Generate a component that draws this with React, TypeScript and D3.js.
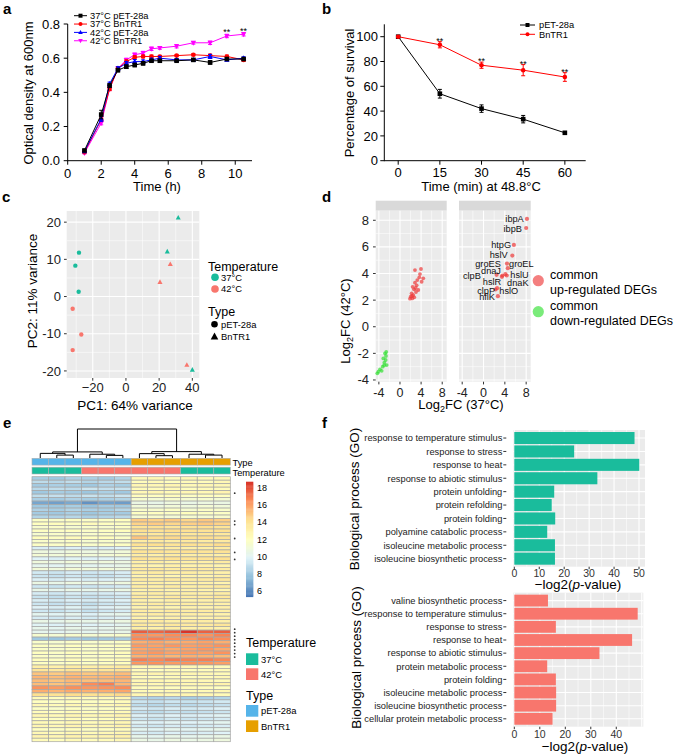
import React from "react";
import * as d3 from "d3";

const F = "'Liberation Sans', Arial, Helvetica, sans-serif";

// ---------- Panel a data ----------
const growthTime = [1, 2, 2.5, 3, 3.5, 4, 4.5, 5, 5.5, 6.5, 7.5, 8.5, 9.5, 10.5];
const od37pET = [0.06, 0.27, 0.44, 0.53, 0.55, 0.56, 0.57, 0.585, 0.585, 0.585, 0.59, 0.575, 0.595, 0.595];
const od37Bn = [0.05, 0.24, 0.42, 0.54, 0.58, 0.605, 0.61, 0.61, 0.61, 0.615, 0.62, 0.615, 0.61, 0.59];
const od42pET = [0.055, 0.245, 0.45, 0.54, 0.57, 0.58, 0.58, 0.59, 0.6, 0.59, 0.59, 0.61, 0.59, 0.6];
const od42Bn = [0.045, 0.22, 0.42, 0.54, 0.59, 0.62, 0.63, 0.655, 0.66, 0.67, 0.69, 0.69, 0.73, 0.74];
const err37pET = [0.005, 0.025, 0.01, 0.01, 0.01, 0.01, 0.01, 0.008, 0.008, 0.006, 0.006, 0.01, 0.006, 0.006];
const err37Bn = [0.005, 0.01, 0.01, 0.01, 0.01, 0.01, 0.008, 0.008, 0.006, 0.006, 0.006, 0.008, 0.008, 0.008];
const err42pET = [0.005, 0.015, 0.01, 0.01, 0.01, 0.012, 0.01, 0.01, 0.01, 0.008, 0.008, 0.012, 0.006, 0.008];
const err42Bn = [0.005, 0.01, 0.01, 0.01, 0.01, 0.01, 0.01, 0.01, 0.008, 0.01, 0.008, 0.01, 0.01, 0.01];
const growthStars = [9.5, 10.5];

// ---------- Panel b data ----------
const survTime = [0, 15, 30, 45, 60];
const survPET = [100, 54, 42, 33.5, 22.5];
const survPETErr = [0.5, 3.5, 3, 3, 1];
const survBn = [100, 93.5, 77, 73, 67.5];
const survBnErr = [0.5, 2.5, 2.5, 4.5, 3.5];

// ---------- Panel c data ----------
const pcaX = [-28.3, -30.5, -28.5, -32.1, -26.9, -32.1, 31.5, 24.9, 40.0, 26.7, 20.5, 36.7];
const pcaY = [11.8, 8.3, 1.3, -3.3, -10.2, -14.4, 21.2, 12.1, -19.7, 8.7, 3.9, -18.4];
const pcaTemp = ["37°C", "37°C", "37°C", "42°C", "42°C", "42°C", "37°C", "37°C", "37°C", "42°C", "42°C", "42°C"];
const pcaType = ["pET-28a", "pET-28a", "pET-28a", "pET-28a", "pET-28a", "pET-28a", "BnTR1", "BnTR1", "BnTR1", "BnTR1", "BnTR1", "BnTR1"];

// ---------- Panel d data ----------
const upX = [2.84, 3.98, 3.66, 4.41, 3.28, 2.84, 3.16, 2.4, 2.65, 3.47, 3.03, 2.21, 2.52, 2.03, 2.33, 2.71, 1.89, 2.97, 2.27, 4.1, 3.79];
const upY = [4.26, 4.34, 3.71, 3.64, 3.51, 3.31, 3.11, 3.0, 2.81, 2.76, 2.61, 2.51, 2.38, 2.26, 2.13, 2.21, 2.11, 2.91, 2.31, 3.38, 3.96];
const downX = [-2.84, -2.65, -3.16, -2.71, -2.97, -2.52, -3.28, -3.79, -4.1, -3.47, -4.29, -2.6, -3.0];
const downY = [-2.0, -2.2, -2.38, -2.5, -2.7, -2.88, -3.0, -3.2, -3.38, -3.31, -3.5, -1.9, -2.9];
const geneNames = ["ibpA", "ibpB", "htpG", "hslV", "groES", "groEL", "dnaJ", "clpB", "hslU", "hslR", "dnaK", "clpP", "hslO", "hflK"];
const geneX = [8.15, 8.0, 5.7, 5.4, 4.4, 4.55, 3.55, 2.45, 4.1, 3.45, 4.35, 2.25, 2.55, 2.7];
const geneY = [8.1, 7.42, 6.15, 5.35, 4.75, 4.4, 3.85, 3.9, 3.95, 3.75, 3.85, 2.8, 2.9, 2.3];
const geneLabelX = [5.82, 5.49, 3.3, 2.84, 0.84, 7.09, 1.4, -2.19, 6.76, 1.59, 6.44, 0.48, 4.74, 0.67];
const geneLabelY = [8.14, 7.39, 6.14, 5.39, 4.73, 4.73, 4.24, 3.83, 3.94, 3.34, 3.31, 2.7, 2.7, 2.25];

// ---------- Panel e data ----------
const heatRows = [
  "8.2 8.0 8.4 8.3 8.1 8.5 12.4 12.6 12.2 12.5 12.3 12.4",
  "8.8 8.6 8.9 8.5 8.7 8.9 12.2 12.4 12.1 12.3 12.2 12.5",
  "8.1 8.3 8.2 8.0 8.4 8.2 12.6 12.5 12.7 12.4 12.6 12.5",
  "8.7 8.9 8.8 9.2 9.0 9.1 12.3 12.2 12.4 12.1 12.3 12.2",
  "8.0 8.2 8.1 7.9 8.3 8.0 12.5 12.7 12.4 12.6 12.5 12.8",
  "8.9 9.0 8.8 9.1 8.9 9.2 12.1 12.0 12.2 11.9 12.1 12.0",
  "8.3 8.1 8.4 8.2 8.3 8.5 11.4 11.2 11.5 11.3 11.4 11.2",
  "6.8 6.6 6.9 6.2 6.7 6.5 10.6 10.4 10.8 10.5 10.7 10.6",
  "8.0 7.9 8.2 7.8 8.1 8.0 11.0 10.8 11.1 10.9 11.2 11.0",
  "8.4 8.2 8.5 8.3 8.2 8.6 11.6 11.5 11.8 11.4 11.7 11.6",
  "8.1 8.0 8.3 7.9 8.2 8.1 11.9 12.0 11.8 12.1 11.9 11.8",
  "8.5 8.4 8.6 8.3 8.5 8.7 11.3 11.5 11.2 11.4 11.3 11.5",
  "11.8 11.6 11.9 11.7 11.8 12.0 14.8 14.6 14.9 14.5 14.9 14.7",
  "12.0 12.1 11.9 12.2 12.0 11.9 14.6 14.8 14.5 14.7 14.9 14.6",
  "11.5 11.7 11.4 11.6 11.5 11.8 13.9 14.1 13.8 14.0 14.2 13.9",
  "11.9 11.8 12.0 11.7 11.9 12.1 14.2 14.0 14.3 14.1 14.0 14.2",
  "11.4 11.6 11.3 11.5 11.7 11.4 13.8 13.6 13.9 13.7 13.8 13.6",
  "12.1 11.9 12.2 12.0 12.1 11.8 15.0 14.3 14.4 14.2 14.3 14.1",
  "11.6 11.5 11.7 11.4 11.6 11.5 13.4 13.5 13.3 13.6 13.4 13.5",
  "11.8 11.7 11.9 11.6 11.8 11.9 14.0 14.2 13.9 14.1 14.0 14.3",
  "9.6 9.4 9.7 9.5 9.6 9.8 13.2 13.0 13.3 13.1 13.2 13.4",
  "10.8 10.6 10.9 10.7 10.8 11.0 13.9 14.0 13.8 14.1 13.9 14.0",
  "11.2 11.0 11.3 11.1 11.2 11.4 13.3 13.1 13.4 13.2 13.3 13.1",
  "9.8 9.6 9.9 9.7 9.8 10.0 14.0 13.8 14.1 13.9 14.0 14.2",
  "10.9 10.7 11.0 10.8 10.9 10.7 13.1 13.3 13.0 13.2 13.1 13.4",
  "10.2 10.0 10.3 10.1 10.2 10.4 13.0 12.8 13.1 12.9 13.0 12.8",
  "11.1 10.9 11.2 11.0 11.1 10.9 13.5 13.7 13.4 13.6 13.5 13.3",
  "9.4 9.2 9.5 9.3 9.4 9.6 13.2 13.4 13.1 13.3 13.2 13.0",
  "9.2 9.0 9.3 9.1 9.0 9.4 12.8 13.0 12.7 12.9 12.8 13.1",
  "9.7 9.5 9.8 9.6 9.7 9.9 13.4 13.2 13.5 13.3 13.4 13.6",
  "10.6 10.4 10.7 10.5 10.6 10.8 13.0 13.2 12.9 13.1 13.0 12.8",
  "9.3 9.1 9.4 9.2 9.3 9.5 13.3 13.1 13.4 13.2 13.3 13.5",
  "10.4 10.2 10.5 10.3 10.4 10.6 12.9 13.1 12.8 13.0 12.9 12.7",
  "9.5 9.3 9.6 9.4 9.5 9.7 13.1 13.3 13.0 13.2 13.1 13.3",
  "9.1 8.9 9.2 9.0 9.1 9.3 13.5 13.3 13.6 13.4 13.5 13.7",
  "9.6 9.4 9.7 9.5 9.6 9.8 13.0 12.8 13.1 12.9 13.0 13.2",
  "9.2 9.0 9.3 8.9 9.2 9.4 13.2 13.4 13.1 13.3 13.2 13.0",
  "9.8 9.6 9.9 9.4 9.8 10.0 12.8 13.0 12.7 12.9 12.8 13.0",
  "9.3 9.1 9.4 9.0 9.3 9.5 13.4 13.2 13.5 13.3 13.4 13.2",
  "10.1 9.9 10.2 9.7 10.1 10.3 13.1 13.3 13.0 13.2 13.1 12.9",
  "9.5 9.3 9.6 9.4 9.5 9.7 12.9 12.7 13.0 12.8 12.9 13.1",
  "10.5 10.3 10.6 10.4 10.5 10.7 13.3 13.5 13.2 13.4 13.3 13.1",
  "9.9 9.7 10.0 9.8 9.9 10.1 13.6 13.4 13.7 13.5 13.6 13.8",
  "10.3 10.1 10.4 10.2 10.3 10.5 13.2 13.0 13.3 13.1 13.2 13.0",
  "10.2 10.0 10.3 10.1 10.2 10.4 17.6 17.4 17.7 18.6 17.5 17.6",
  "11.4 11.2 11.5 11.3 11.4 11.6 16.4 16.2 16.5 16.6 16.3 16.7",
  "8.0 7.8 8.1 7.9 8.0 8.2 16.6 16.8 16.5 16.3 16.7 16.5",
  "11.6 11.4 11.7 11.5 11.6 11.8 15.6 15.8 15.5 15.7 15.9 15.6",
  "11.9 11.7 12.0 11.8 11.9 12.1 16.1 15.9 16.2 16.0 16.1 16.3",
  "11.7 11.5 11.8 11.6 11.7 11.9 15.8 16.0 15.7 15.9 16.2 15.8",
  "12.0 11.8 12.1 11.9 12.0 12.2 16.0 16.2 15.9 16.1 16.0 16.3",
  "11.8 11.6 11.9 11.7 11.8 12.0 15.5 15.7 15.4 15.6 15.5 15.3",
  "12.1 11.9 12.2 12.0 12.1 12.3 16.8 16.6 16.9 16.7 16.8 16.6",
  "11.9 11.7 12.0 11.8 11.9 12.1 16.2 16.4 16.1 16.3 16.2 16.0",
  "13.2 13.0 13.3 13.1 13.2 13.4 12.4 12.6 12.3 12.5 12.4 12.2",
  "13.8 13.6 13.9 13.7 13.8 14.0 12.2 12.0 12.3 12.1 12.2 12.4",
  "15.0 14.8 15.1 14.9 15.0 15.2 12.6 12.8 12.5 12.7 12.6 12.4",
  "15.4 15.2 15.5 15.3 15.4 15.6 12.3 12.1 12.4 12.2 12.3 12.5",
  "15.2 15.0 15.3 15.1 15.2 15.4 12.5 12.7 12.4 12.6 12.5 12.3",
  "15.2 15.0 15.3 16.5 16.8 15.4 12.7 12.5 12.8 12.6 12.7 12.9",
  "16.3 16.1 16.4 16.2 16.3 16.5 12.2 12.4 12.1 12.3 12.2 12.0",
  "15.6 15.4 15.7 15.5 15.6 15.8 12.4 12.2 12.5 12.3 12.4 12.6",
  "14.2 14.0 14.3 14.1 14.2 14.4 12.6 12.8 12.5 12.7 12.6 12.4",
  "12.3 12.1 12.4 12.2 12.3 12.5 8.6 8.4 8.7 8.2 8.3 8.5",
  "12.0 11.8 12.1 11.9 12.0 12.2 9.2 9.0 9.3 9.1 9.2 9.4",
  "12.5 12.3 12.6 12.4 12.5 12.7 8.8 8.6 8.9 8.7 8.8 9.0",
  "11.8 11.6 11.9 11.7 11.8 12.0 9.5 9.3 9.6 9.4 9.5 9.7",
  "12.2 12.0 12.3 12.1 12.2 12.4 9.0 8.8 9.1 8.9 9.0 9.2",
  "12.6 12.4 12.7 12.5 12.6 12.8 9.7 9.5 9.8 9.6 9.7 9.9",
  "12.1 11.9 12.2 12.0 12.1 12.3 9.3 9.1 9.4 9.2 9.3 9.5",
  "12.4 12.2 12.5 12.3 12.4 12.6 9.9 9.7 10.0 9.8 9.9 10.1",
  "12.7 12.5 12.8 12.6 12.7 12.9 9.4 9.2 9.5 9.3 9.4 9.6",
  "12.0 11.8 12.1 11.9 12.0 12.2 10.1 9.9 10.2 10.0 10.1 10.3",
  "12.5 12.3 12.6 12.4 12.5 12.7 9.6 9.4 9.7 9.5 9.6 9.8",
  "12.8 12.6 12.9 12.7 12.8 13.0 10.3 10.1 10.4 10.2 10.3 10.5",
  "12.3 12.1 12.4 12.2 12.3 12.5 10.6 10.4 10.7 10.5 10.6 10.8",
];
const heatType = ["pET-28a", "pET-28a", "pET-28a", "pET-28a", "pET-28a", "pET-28a", "BnTR1", "BnTR1", "BnTR1", "BnTR1", "BnTR1", "BnTR1"];
const heatTemp = ["37°C", "37°C", "37°C", "42°C", "42°C", "42°C", "42°C", "42°C", "42°C", "37°C", "37°C", "37°C"];
const sigRows = [4, 12, 13, 17, 21, 23, 43, 44, 45, 46, 47, 48, 49, 50, 51];
// hclust-like merges: [childA, childB, height]; leaves 0..11, merges numbered from 12
const dendroMerges = [
  [1, 2, 1.0], [0, 12, 1.6], [4, 5, 0.9], [3, 14, 1.3], [13, 15, 2.1],
  [7, 8, 0.8], [6, 17, 1.5], [10, 11, 1.0], [9, 19, 1.3], [18, 20, 2.2], [16, 21, 10],
];
const heatLegendTicks = [6, 8, 10, 12, 14, 16, 18];

// ---------- Panel f data ----------
const goUpTerms = ["response to temperature stimulus", "response to stress", "response to heat", "response to abiotic stimulus", "protein unfolding", "protein refolding", "protein folding", "polyamine catabolic process", "isoleucine metabolic process", "isoleucine biosynthetic process"];
const goUpVals = [48.2, 24.0, 50.1, 33.3, 16.0, 15.0, 16.4, 13.2, 16.3, 16.3];
const goDownTerms = ["valine biosynthetic process", "response to temperature stimulus", "response to stress", "response to heat", "response to abiotic stimulus", "protein metabolic process", "protein folding", "isoleucine metabolic process", "isoleucine biosynthetic process", "cellular protein metabolic process"];
const goDownVals = [13.2, 48.4, 16.3, 46.2, 33.4, 12.9, 16.3, 16.4, 16.4, 15.0];

const TEAL = "#1ABC9C";
const SALMON = "#F8766D";
const GGBG = "#EBEBEB";

function Marker({ shape, x, y, color, s = 2.3 }: any) {
  if (shape === "square") return <rect x={x - s} y={y - s} width={2 * s} height={2 * s} fill={color} />;
  if (shape === "circle") return <circle cx={x} cy={y} r={s} fill={color} />;
  if (shape === "up") return <path d={`M${x},${y - s * 1.25}L${x + s * 1.15},${y + s * 0.85}L${x - s * 1.15},${y + s * 0.85}Z`} fill={color} />;
  return <path d={`M${x},${y + s * 1.25}L${x + s * 1.15},${y - s * 0.85}L${x - s * 1.15},${y - s * 0.85}Z`} fill={color} />;
}

function PanelLetter({ x, y, t }: any) {
  return <text x={x} y={y} fontSize={15} fontWeight="bold" fontFamily={F}>{t}</text>;
}

function PanelA() {
  const x = d3.scaleLinear().domain([0, 11]).range([67.7, 252]);
  const y = d3.scaleLinear().domain([0, 0.8]).range([160.7, 24]);
  const series = [
    { name: "42°C BnTR1", v: od42Bn, e: err42Bn, c: "#FF00FF", s: "down" },
    { name: "37°C BnTR1", v: od37Bn, e: err37Bn, c: "#FF0000", s: "circle" },
    { name: "42°C pET-28a", v: od42pET, e: err42pET, c: "#0000FF", s: "up" },
    { name: "37°C pET-28a", v: od37pET, e: err37pET, c: "#000000", s: "square" },
  ];
  const legendOrder = [3, 1, 2, 0];
  const line = d3.line<number>().x((_, i) => x(growthTime[i])).y((d) => y(d));
  return (
    <g fontFamily={F}>
      <PanelLetter x={3} y={14} t="a" />
      <line x1={x(0)} x2={x(11)} y1={y(0)} y2={y(0)} stroke="#000" />
      <line x1={x(0)} x2={x(0)} y1={y(0) + 0.5} y2={y(0.8)} stroke="#000" />
      {d3.range(0, 11, 2).map((t) => (
        <g key={t}>
          <line x1={x(t)} x2={x(t)} y1={y(0)} y2={y(0) + 4} stroke="#000" />
          <text x={x(t)} y={178} fontSize={13} textAnchor="middle">{t}</text>
        </g>
      ))}
      {[0, 0.2, 0.4, 0.6, 0.8].map((t) => (
        <g key={t}>
          <line x1={x(0) - 4} x2={x(0)} y1={y(t)} y2={y(t)} stroke="#000" />
          <text x={60} y={y(t) + 4.6} fontSize={13} textAnchor="end">{t.toFixed(1)}</text>
        </g>
      ))}
      <text transform="translate(32.5,93) rotate(-90)" fontSize={13} textAnchor="middle">Optical density at 600nm</text>
      <text x={157} y={191} fontSize={13} textAnchor="middle">Time (h)</text>
      {series.map((sr) => (
        <g key={sr.name}>
          <path d={line(sr.v) || ""} fill="none" stroke={sr.c} strokeWidth={1} />
          {sr.v.map((v, i) => (
            <g key={i}>
              <line x1={x(growthTime[i])} x2={x(growthTime[i])} y1={y(v - sr.e[i])} y2={y(v + sr.e[i])} stroke={sr.c} />
              <line x1={x(growthTime[i]) - 2} x2={x(growthTime[i]) + 2} y1={y(v + sr.e[i])} y2={y(v + sr.e[i])} stroke={sr.c} />
              <line x1={x(growthTime[i]) - 2} x2={x(growthTime[i]) + 2} y1={y(v - sr.e[i])} y2={y(v - sr.e[i])} stroke={sr.c} />
              <Marker shape={sr.s} x={x(growthTime[i])} y={y(v)} color={sr.c} />
            </g>
          ))}
        </g>
      ))}
      {growthStars.map((t) => {
        const i = growthTime.indexOf(t);
        return <text key={t} x={x(t)} y={y(od42Bn[i] + err42Bn[i]) + 1} fontSize={9} textAnchor="middle">**</text>;
      })}
      {legendOrder.map((si, k) => {
        const sr = series[si];
        const ly = 15.7 + k * 8.35;
        return (
          <g key={sr.name}>
            <line x1={74} x2={87} y1={ly} y2={ly} stroke={sr.c} />
            <Marker shape={sr.s} x={80.5} y={ly} color={sr.c} s={2} />
            <text x={90} y={ly + 3.3} fontSize={9.3}>{sr.name}</text>
          </g>
        );
      })}
    </g>
  );
}

function PanelB() {
  const x = d3.scaleLinear().domain([-5, 67.5]).range([384.3, 585.7]);
  const y = d3.scaleLinear().domain([0, 110]).range([160.7, 24.3]);
  const series = [
    { name: "pET-28a", v: survPET, e: survPETErr, c: "#000", s: "square" },
    { name: "BnTR1", v: survBn, e: survBnErr, c: "#FF0000", s: "circle" },
  ];
  const line = d3.line<number>().x((_, i) => x(survTime[i])).y((d) => y(d));
  return (
    <g fontFamily={F}>
      <PanelLetter x={322} y={14} t="b" />
      <line x1={x(-5)} x2={x(67.5)} y1={y(0)} y2={y(0)} stroke="#000" />
      <line x1={x(-5)} x2={x(-5)} y1={y(0) + 0.5} y2={y(110)} stroke="#000" />
      {survTime.map((t) => (
        <g key={t}>
          <line x1={x(t)} x2={x(t)} y1={y(0)} y2={y(0) + 4} stroke="#000" />
          <text x={x(t)} y={176.5} fontSize={13} textAnchor="middle">{t}</text>
        </g>
      ))}
      {[0, 20, 40, 60, 80, 100].map((t) => (
        <g key={t}>
          <line x1={x(-5) - 4} x2={x(-5)} y1={y(t)} y2={y(t)} stroke="#000" />
          <text x={378} y={y(t) + 4.6} fontSize={13} textAnchor="end">{t}</text>
        </g>
      ))}
      <text transform="translate(353.5,93) rotate(-90)" fontSize={13} textAnchor="middle">Percentage of survival</text>
      <text x={481} y={191} fontSize={13} textAnchor="middle">Time (min) at 48.8°C</text>
      {series.map((sr) => (
        <g key={sr.name}>
          <path d={line(sr.v) || ""} fill="none" stroke={sr.c} />
          {sr.v.map((v, i) => (
            <g key={i}>
              <line x1={x(survTime[i])} x2={x(survTime[i])} y1={y(v - sr.e[i])} y2={y(v + sr.e[i])} stroke={sr.c} />
              <line x1={x(survTime[i]) - 2} x2={x(survTime[i]) + 2} y1={y(v + sr.e[i])} y2={y(v + sr.e[i])} stroke={sr.c} />
              <line x1={x(survTime[i]) - 2} x2={x(survTime[i]) + 2} y1={y(v - sr.e[i])} y2={y(v - sr.e[i])} stroke={sr.c} />
              <Marker shape={sr.s} x={x(survTime[i])} y={y(v)} color={sr.c} />
            </g>
          ))}
        </g>
      ))}
      {survTime.slice(1).map((t, k) => (
        <text key={t} x={x(t)} y={y(survBn[k + 1] + survBnErr[k + 1]) + 2} fontSize={9} textAnchor="middle">**</text>
      ))}
      {series.map((sr, k) => {
        const ly = 25 + k * 9.3;
        return (
          <g key={sr.name}>
            <line x1={520} x2={535} y1={ly} y2={ly} stroke={sr.c} />
            <Marker shape={sr.s} x={527.5} y={ly} color={sr.c} s={2} />
            <text x={539} y={ly + 3.3} fontSize={9.3}>{sr.name}</text>
          </g>
        );
      })}
    </g>
  );
}

function PanelC() {
  const x = d3.scaleLinear().domain([-35.7, 44.2]).range([66.7, 199.3]);
  const y = d3.scaleLinear().domain([-21.9, 23.0]).range([378, 211]);
  const xMaj = [-20, 0, 20, 40], xMin = [-30, -10, 10, 30];
  const yMaj = [-20, -10, 0, 10, 20], yMin = [-15, -5, 5, 15];
  const tempColor = (t: string) => (t === "37°C" ? TEAL : SALMON);
  return (
    <g fontFamily={F}>
      <PanelLetter x={2} y={201.5} t="c" />
      <rect x={66.7} y={211} width={132.6} height={167} fill={GGBG} />
      {xMin.map((v) => <line key={"a" + v} x1={x(v)} x2={x(v)} y1={211} y2={378} stroke="#fff" strokeWidth={0.55} />)}
      {yMin.map((v) => <line key={"b" + v} y1={y(v)} y2={y(v)} x1={66.7} x2={199.3} stroke="#fff" strokeWidth={0.55} />)}
      {xMaj.map((v) => <line key={"c" + v} x1={x(v)} x2={x(v)} y1={211} y2={378} stroke="#fff" strokeWidth={1.1} />)}
      {yMaj.map((v) => <line key={"d" + v} y1={y(v)} y2={y(v)} x1={66.7} x2={199.3} stroke="#fff" strokeWidth={1.1} />)}
      {xMaj.map((v) => (
        <g key={"e" + v}>
          <line x1={x(v)} x2={x(v)} y1={378} y2={380.7} stroke="#333" />
          <text x={x(v)} y={392} fontSize={13} textAnchor="middle" fill="#222">{v < 0 ? "−" + Math.abs(v) : v}</text>
        </g>
      ))}
      {yMaj.map((v) => (
        <g key={"f" + v}>
          <line x1={64} x2={66.7} y1={y(v)} y2={y(v)} stroke="#333" />
          <text x={61} y={y(v) + 4.6} fontSize={13} textAnchor="end" fill="#222">{v}</text>
        </g>
      ))}
      <text transform="translate(36.5,291) rotate(-90)" fontSize={13.5} textAnchor="middle">PC2: 11% variance</text>
      <text x={135} y={410} fontSize={13.5} textAnchor="middle">PC1: 64% variance</text>
      {pcaX.map((px, i) => (
        <Marker key={i} shape={pcaType[i] === "BnTR1" ? "up" : "circle"} x={x(px)} y={y(pcaY[i])} color={tempColor(pcaTemp[i])} s={2.2} />
      ))}
      <text x={208} y={271} fontSize={12.5}>Temperature</text>
      {["37°C", "42°C"].map((t, k) => (
        <g key={t}>
          <circle cx={215} cy={277.3 + k * 11.7} r={3.8} fill={tempColor(t)} />
          <text x={221} y={280.7 + k * 11.7} fontSize={9.4}>{t}</text>
        </g>
      ))}
      <text x={208} y={315.5} fontSize={12.5}>Type</text>
      {["pET-28a", "BnTR1"].map((t, k) => (
        <g key={t}>
          <Marker shape={t === "BnTR1" ? "up" : "circle"} x={214.5} y={324.3 + k * 12.4} color="#000" s={3.3} />
          <text x={221} y={327.7 + k * 12.4} fontSize={9.4}>{t}</text>
        </g>
      ))}
    </g>
  );
}

function PanelD() {
  const dom = [-4.6, 8.85];
  const x1 = d3.scaleLinear().domain(dom).range([375.7, 446.7]);
  const x2 = d3.scaleLinear().domain(dom).range([459, 530.7]);
  const y = d3.scaleLinear().domain([-4.13, 8.72]).range([381.7, 210.7]);
  const xMaj = [-4, 0, 4, 8], xMin = [-2, 2, 6];
  const yMaj = [-4, -2, 0, 2, 4, 6, 8], yMin = [-3, -1, 1, 3, 5, 7];
  const UP = "#EE3B3B", DOWN = "#33E033";
  const facet = (xs: any, key: string) => (
    <g key={key}>
      <rect x={xs.range()[0]} y={200.7} width={xs.range()[1] - xs.range()[0]} height={10} fill="#D9D9D9" />
      <rect x={xs.range()[0]} y={210.7} width={xs.range()[1] - xs.range()[0]} height={171} fill={GGBG} />
      {xMin.map((v) => <line key={"a" + v} x1={xs(v)} x2={xs(v)} y1={210.7} y2={381.7} stroke="#fff" strokeWidth={0.55} />)}
      {yMin.map((v) => <line key={"b" + v} y1={y(v)} y2={y(v)} x1={xs.range()[0]} x2={xs.range()[1]} stroke="#fff" strokeWidth={0.55} />)}
      {xMaj.map((v) => <line key={"c" + v} x1={xs(v)} x2={xs(v)} y1={210.7} y2={381.7} stroke="#fff" strokeWidth={1.1} />)}
      {yMaj.map((v) => <line key={"d" + v} y1={y(v)} y2={y(v)} x1={xs.range()[0]} x2={xs.range()[1]} stroke="#fff" strokeWidth={1.1} />)}
      {xMaj.map((v) => (
        <g key={"e" + v}>
          <line x1={xs(v)} x2={xs(v)} y1={381.7} y2={384.4} stroke="#333" />
          <text x={xs(v)} y={396.5} fontSize={12.5} textAnchor="middle" fill="#222">{v}</text>
        </g>
      ))}
    </g>
  );
  return (
    <g fontFamily={F}>
      <PanelLetter x={322} y={201.5} t="d" />
      {facet(x1, "L")}
      {facet(x2, "R")}
      {yMaj.map((v) => (
        <g key={"f" + v}>
          <line x1={373} x2={375.7} y1={y(v)} y2={y(v)} stroke="#333" />
          <text x={369} y={y(v) + 4.5} fontSize={13} textAnchor="end" fill="#222">{v}</text>
        </g>
      ))}
      <text transform="translate(350,321) rotate(-90)" fontSize={13} textAnchor="middle">
        Log<tspan fontSize={9} dy={3}>2</tspan><tspan dy={-3}>FC (42°C)</tspan>
      </text>
      <text x={461} y={409} fontSize={13} textAnchor="middle">
        Log<tspan fontSize={9} dy={3}>2</tspan><tspan dy={-3}>FC (37°C)</tspan>
      </text>
      {upX.map((v, i) => <circle key={"u" + i} cx={x1(v)} cy={y(upY[i])} r={1.9} fill={UP} opacity={0.7} />)}
      {downX.map((v, i) => <circle key={"g" + i} cx={x1(v)} cy={y(downY[i])} r={1.9} fill={DOWN} opacity={0.7} />)}
      {geneX.map((v, i) => <circle key={"p" + i} cx={x2(v)} cy={y(geneY[i])} r={2.1} fill={UP} opacity={0.7} />)}
      {geneNames.map((n, i) => (
        <text key={n} x={x2(geneLabelX[i])} y={y(geneLabelY[i]) + 3.2} fontSize={9.2} textAnchor="middle" fill="#111">{n}</text>
      ))}
      <circle cx={538.3} cy={280.7} r={5.6} fill={UP} opacity={0.65} />
      <circle cx={538.3} cy={311.7} r={5.6} fill={DOWN} opacity={0.65} />
      <text x={550} y={278.8} fontSize={12.5}>common</text>
      <text x={550} y={294} fontSize={12.5}>up-regulated DEGs</text>
      <text x={550} y={309.5} fontSize={12.5}>common</text>
      <text x={550} y={324.7} fontSize={12.5}>down-regulated DEGs</text>
    </g>
  );
}

function PanelE() {
  const matrix = heatRows.map((r) => r.split(" ").map(Number));
  const nRow = matrix.length;
  const cols = d3.scaleBand<number>().domain(d3.range(12)).range([32, 230.3]);
  const rows = d3.scaleBand<number>().domain(d3.range(nRow)).range([476.7, 741.7]);
  const lo = 5.34, hi = 18.7;
  const palette = ["#4575B4", "#91BFDB", "#E0F3F8", "#FFFFBF", "#FEE090", "#FC8D59", "#D73027"];
  const color = d3.scaleLinear<string>().domain(palette.map((_, i) => lo + (i * (hi - lo)) / 6)).range(palette).interpolate(d3.interpolateRgb).clamp(true);
  const typeColor: any = { "pET-28a": "#56B4E9", BnTR1: "#E69F00" };
  const tempColor: any = { "37°C": TEAL, "42°C": SALMON };
  // dendrogram
  const hY = d3.scaleLinear().domain([0, 10]).range([458, 429]);
  const nodeX: number[] = d3.range(12).map((j) => (cols(j) as number) + cols.bandwidth() / 2);
  const nodeH: number[] = d3.range(12).map(() => 0);
  const paths: string[] = [];
  dendroMerges.forEach(([a, b, h]) => {
    const xa = nodeX[a], xb = nodeX[b];
    paths.push(`M${xa},${hY(nodeH[a])}V${hY(h)}H${xb}V${hY(nodeH[b])}`);
    nodeX.push((xa + xb) / 2);
    nodeH.push(h);
  });
  const legY = d3.scaleLinear().domain([lo, hi]).range([596.7, 481.7]);
  const steps = d3.range(lo, hi, (hi - lo) / 100);
  return (
    <g fontFamily={F}>
      <PanelLetter x={3} y={428} t="e" />
      {paths.map((p, i) => <path key={i} d={p} fill="none" stroke="#000" strokeWidth={1} />)}
      {heatType.map((t, j) => (
        <rect key={"t" + j} x={cols(j)} y={458.3} width={cols.bandwidth()} height={6.8} fill={typeColor[t]} stroke="#B0B0B0" strokeWidth={0.6} />
      ))}
      {heatTemp.map((t, j) => (
        <rect key={"m" + j} x={cols(j)} y={467.2} width={cols.bandwidth()} height={6.8} fill={tempColor[t]} stroke="#B0B0B0" strokeWidth={0.6} />
      ))}
      <text x={232.5} y={465.5} fontSize={9.3}>Type</text>
      <text x={232.5} y={476} fontSize={9.3}>Temperature</text>
      {matrix.map((r, i) =>
        r.map((v, j) => (
          <rect key={i + "-" + j} x={cols(j)} y={rows(i)} width={cols.bandwidth()} height={rows.bandwidth()} fill={color(v)} stroke="#A5A5A5" strokeWidth={0.7} />
        ))
      )}
      {sigRows.map((r) => (
        <circle key={r} cx={234.7} cy={(rows(r) as number) + rows.bandwidth() / 2 + 0.8} r={0.9} fill="#333" />
      ))}
      {steps.map((v, i) => (
        <rect key={i} x={246} y={legY(v + (hi - lo) / 100)} width={7.3} height={legY(v) - legY(v + (hi - lo) / 100) + 0.4} fill={color(v)} />
      ))}
      {heatLegendTicks.map((t) => (
        <text key={t} x={257} y={legY(t) + 3.2} fontSize={9}>{t}</text>
      ))}
      <text x={246} y={646.5} fontSize={12.5}>Temperature</text>
      {["37°C", "42°C"].map((t, k) => (
        <g key={t}>
          <rect x={246} y={653.3 + k * 15} width={12.3} height={11.7} fill={tempColor[t]} />
          <text x={261} y={662.5 + k * 15} fontSize={9.4}>{t}</text>
        </g>
      ))}
      <text x={246} y={700} fontSize={12.5}>Type</text>
      {["pET-28a", "BnTR1"].map((t, k) => (
        <g key={t}>
          <rect x={246} y={705 + k * 15.3} width={12.3} height={11.7} fill={typeColor[t]} />
          <text x={261} y={714.3 + k * 15.3} fontSize={9.4}>{t}</text>
        </g>
      ))}
    </g>
  );
}

function GoBars({ terms, vals, fill, xDom, xRange, yRange, ticks, tickY, axisTitleY, axisTitleX, yTitleX, yTitleY }: any) {
  const x = d3.scaleLinear().domain(xDom).range(xRange);
  const y = d3.scaleBand<string>().domain(terms).range(yRange).paddingInner(0.1).paddingOuter(0.15);
  const [x0, x1] = xRange;
  const [y0, y1] = yRange;
  const maj = d3.range(0, 51, 10).filter((v) => x(v) <= x1 + 0.1);
  const min = d3.range(5, 51, 10).filter((v) => x(v) <= x1);
  return (
    <g fontFamily={F}>
      <rect x={x0} y={y0} width={x1 - x0} height={y1 - y0} fill={GGBG} />
      {min.map((v: number) => <line key={"a" + v} x1={x(v)} x2={x(v)} y1={y0} y2={y1} stroke="#fff" strokeWidth={0.55} />)}
      {maj.map((v: number) => <line key={"b" + v} x1={x(v)} x2={x(v)} y1={y0} y2={y1} stroke="#fff" strokeWidth={1.1} />)}
      {terms.map((t: string) => (
        <line key={"c" + t} x1={x0} x2={x1} y1={(y(t) as number) + y.bandwidth() / 2} y2={(y(t) as number) + y.bandwidth() / 2} stroke="#fff" strokeWidth={1.1} />
      ))}
      {terms.map((t: string, i: number) => (
        <rect key={"r" + t} x={x(0)} y={y(t)} width={x(vals[i]) - x(0)} height={y.bandwidth()} fill={fill} />
      ))}
      {terms.map((t: string) => (
        <g key={"l" + t}>
          <line x1={x0 - 10} x2={x0 - 7} y1={(y(t) as number) + y.bandwidth() / 2} y2={(y(t) as number) + y.bandwidth() / 2} stroke="#333" />
          <text x={x0 - 11} y={(y(t) as number) + y.bandwidth() / 2 + 3.3} fontSize={9.3} textAnchor="end" fill="#222">{t}</text>
        </g>
      ))}
      {ticks.map((v: number) => (
        <g key={"x" + v}>
          <line x1={x(v)} x2={x(v)} y1={y1} y2={y1 + 2.5} stroke="#333" />
          <text x={x(v)} y={tickY} fontSize={10.5} textAnchor="middle" fill="#333">{v}</text>
        </g>
      ))}
      <text x={axisTitleX} y={axisTitleY} fontSize={13.5} textAnchor="middle">−log2(<tspan fontStyle="italic">p</tspan>-value)</text>
      <text transform={`translate(${yTitleX},${yTitleY}) rotate(-90)`} fontSize={13.5} textAnchor="middle">Biological process (GO)</text>
    </g>
  );
}

function PanelF() {
  return (
    <g>
      <PanelLetter x={322} y={428} t="f" />
      <GoBars terms={goUpTerms} vals={goUpVals} fill={TEAL} xDom={[-0.4, 52.4]} xRange={[513.3, 645]} yRange={[430, 566.7]}
        ticks={[0, 10, 20, 30, 40, 50]} tickY={576.5} axisTitleX={578} axisTitleY={589} yTitleX={358.5} yTitleY={499} />
      <GoBars terms={goDownTerms} vals={goDownVals} fill={SALMON} xDom={[-0.4, 50.6]} xRange={[513.3, 643.3]} yRange={[592.7, 726.7]}
        ticks={[0, 10, 20, 30, 40]} tickY={738} axisTitleX={585} axisTitleY={750.5} yTitleX={360.5} yTitleY={657.5} />
    </g>
  );
}

export default function App() {
  return (
    <svg width={675} height={754} style={{ position: "absolute", left: 0, top: 0, background: "#fff" }} fontFamily={F}>
      <rect width={675} height={754} fill="#fff" />
      <PanelA />
      <PanelB />
      <PanelC />
      <PanelD />
      <PanelE />
      <PanelF />
    </svg>
  );
}
